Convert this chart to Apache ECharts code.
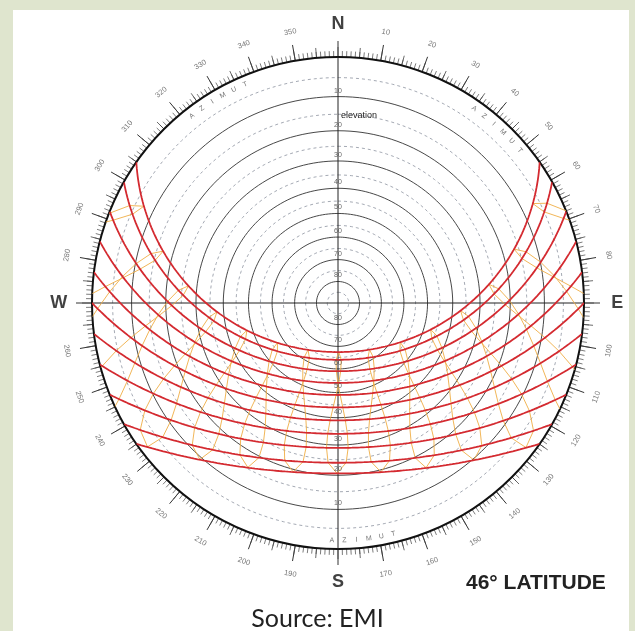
<!DOCTYPE html>
<html><head><meta charset="utf-8">
<script src="https://cdn.jsdelivr.net/npm/echarts@6/dist/echarts.min.js"></script>
<style>html,body{margin:0;padding:0;background:#dfe5ce}#c{width:635px;height:631px}</style>
</head><body><div id="c"></div>
<script>
// ---- data ----
const LATITUDE = 46;
const declinations = [23.44, 20, 15, 10, 5, 0, -5, -10, -15, -20, -23.44];
// mean-time hours of the hour lines (analemma loops through the curve dates)
const clockHours = [4, 5, 6, 7, 8, 9, 10, 11, 12, 13, 14, 15, 16, 17, 18, 19, 20];
const solidElevations = [10, 20, 30, 40, 50, 60, 70, 80];
const dashedElevations = [5, 15, 25, 35, 45, 55, 65, 75, 85];
const elevationTickLabels = ['10', '20', '30', '40', '50', '60', '70', '80'];
const azimuthTickLabels = ['10','20','30','40','50','60','70','80','100','110','120','130','140','150','160','170',
  '190','200','210','220','230','240','250','260','280','290','300','310','320','330','340','350'];
const cardinalLabels = ['N', 'E', 'S', 'W'];
const cardinalAzimuths = [0, 90, 180, 270];
const azimutWord = ['A', 'Z', 'I', 'M', 'U', 'T'];
const azimutWordStarts = [322, 35, 181.5];
const azimutWordSteps = [3, 3, -3];

// ---- projection helpers (stereographic) ----
const D = Math.PI / 180;
const rProj = e => Math.tan((90 - e) / 2 * D);
function sunRaw(decl, hDeg) {
  const phi = LATITUDE * D, d = decl * D, H = hDeg * D;
  const sinE = Math.sin(phi) * Math.sin(d) + Math.cos(phi) * Math.cos(d) * Math.cos(H);
  const e = Math.asin(Math.max(-1, Math.min(1, sinE))) / D;
  let az = Math.atan2(-Math.cos(d) * Math.sin(H), Math.sin(d) * Math.cos(phi) - Math.cos(d) * Math.sin(phi) * Math.cos(H)) / D;
  if (az < 0) az += 360;
  return [e, az];
}
function ring(e) { const pts = []; for (let a = 0; a <= 360; a += 2) pts.push([rProj(e), a]); return pts; }
function sunPath(decl) {
  const phi = LATITUDE * D;
  const h0 = Math.acos(-Math.tan(phi) * Math.tan(decl * D)) / D;
  const hs = [-h0];
  for (let h = Math.ceil(-h0); h < h0; h += 1) hs.push(h);
  hs.push(h0);
  return hs.map(h => { const p = sunRaw(decl, h); return [rProj(Math.max(0, p[0])), p[1]]; });
}
function hourPoint(hr, n) {
  const decl = 23.44 * Math.sin(2 * Math.PI * (284 + n) / 365);
  const B = 2 * Math.PI * (n - 81) / 364;
  const eot = 9.87 * Math.sin(2 * B) - 7.53 * Math.cos(B) - 1.5 * Math.sin(B);
  return sunRaw(decl, (hr + eot / 60 - 12) * 15);
}
// hour line: joins the points of one mean-time hour on each curve, in date order
function hourLoop(hr) {
  const asc = declinations.slice().sort((a, b) => a - b);
  const xs = d => Math.asin(Math.max(-1, Math.min(1, d / 23.44)));
  const ns = asc.map(d => 81 + 365 * xs(d) / (2 * Math.PI))
    .concat(asc.slice().reverse().slice(1).map(d => 263.5 - 365 * xs(d) / (2 * Math.PI)));
  const segs = []; let cur = [];
  const toPt = p => [rProj(Math.max(0, p[0])), p[1]];
  for (let i = 0; i < ns.length; i++) {
    const p = hourPoint(hr, ns[i]);
    if (i > 0) {
      const q = hourPoint(hr, ns[i - 1]);
      const upQ = q[0] >= 0, upP = p[0] >= 0;
      if (upQ !== upP) {
        let a = ns[i - 1], b = ns[i];
        for (let k = 0; k < 30; k++) { const m = (a + b) / 2; if ((hourPoint(hr, m)[0] >= 0) === upQ) a = m; else b = m; }
        const c = toPt(hourPoint(hr, (a + b) / 2));
        if (upQ) { cur.push(c); segs.push(cur); cur = []; } else { cur = [c]; }
      }
    }
    if (p[0] >= 0) cur.push(toPt(p));
  }
  if (cur.length) segs.push(cur);
  return segs.filter(s => s.length > 1);
}

const series = [];
const lineBase = { type: 'line', coordinateSystem: 'polar', polarIndex: 0, showSymbol: false, symbol: 'none', silent: true, clip: false, animation: false };
dashedElevations.forEach(e => series.push(Object.assign({}, lineBase, { data: ring(e), lineStyle: { color: '#8d93a0', width: 0.8, type: [3, 3] }, z: 1 })));
solidElevations.forEach(e => series.push(Object.assign({}, lineBase, { data: ring(e), lineStyle: { color: '#333', width: 0.9 }, z: 2 })));
series.push(Object.assign({}, lineBase, { data: [[1, 0], [0, 0], [1, 180]], lineStyle: { color: '#222', width: 1 }, z: 3 }));
series.push(Object.assign({}, lineBase, { data: [[1, 90], [0, 90], [1, 270]], lineStyle: { color: '#222', width: 1 }, z: 3 }));
clockHours.forEach(hr => hourLoop(hr).forEach(seg => series.push(Object.assign({}, lineBase, { data: seg, lineStyle: { color: '#efae45', width: 0.9 }, z: 4 }))));
declinations.forEach(d => series.push(Object.assign({}, lineBase, { data: sunPath(d), lineStyle: { color: '#d42a30', width: 1.8 }, z: 5 })));

const labelBase = { type: 'scatter', coordinateSystem: 'polar', polarIndex: 0, symbolSize: 0, silent: true, clip: false, animation: false, z: 10 };
series.push(Object.assign({}, labelBase, {
  data: azimuthTickLabels.map(t => { const a = Number(t); return { name: t, value: [1.118, a], label: { rotate: (a > 90 && a < 270) ? 180 - a : -a } }; }),
  label: { show: true, formatter: p => p.name, fontSize: 7.5, color: '#555', fontFamily: 'Liberation Sans, Arial, sans-serif', position: 'inside' }
}));
series.push(Object.assign({}, labelBase, {
  data: cardinalLabels.map((t, i) => ({ name: t, value: [1.135, cardinalAzimuths[i]] })),
  label: { show: true, formatter: p => p.name, fontSize: 18, fontWeight: 'bold', color: '#111', fontFamily: 'Liberation Sans, Arial, sans-serif', position: 'inside' }
}));
const azPts = [];
azimutWordStarts.forEach((s, k) => azimutWord.forEach((ch, i) => {
  const a = s + i * azimutWordSteps[k];
  azPts.push({ name: ch, value: [0.965, a], label: { rotate: (a > 90 && a < 270) ? 180 - a : -a } });
}));
series.push(Object.assign({}, labelBase, {
  data: azPts,
  label: { show: true, formatter: p => p.name, fontSize: 7, color: '#555', fontFamily: 'Liberation Sans, Arial, sans-serif', position: 'inside' }
}));
const elPts = [];
elevationTickLabels.forEach((t, i) => {
  elPts.push({ name: t, value: [rProj(solidElevations[i]), 0] });
  elPts.push({ name: t, value: [rProj(solidElevations[i]), 180] });
});
series.push(Object.assign({}, labelBase, {
  data: elPts,
  label: { show: true, formatter: p => p.name, fontSize: 7, color: '#444', fontFamily: 'Liberation Sans, Arial, sans-serif', position: 'inside', offset: [0, -6] }
}));

const angleCommon = { type: 'value', min: 0, max: 360, startAngle: 90, clockwise: true, axisLabel: { show: false }, splitLine: { show: false }, splitArea: { show: false } };
const option = {
  backgroundColor: '#dfe5ce',
  animation: false,
  graphic: [
    { type: 'rect', shape: { x: 13, y: 10, width: 616, height: 625 }, style: { fill: '#ffffff' }, z: -100, silent: true },
    { type: 'text', left: 341, top: 111, style: { text: 'elevation', font: '9px "Liberation Sans", Arial, sans-serif', fill: '#222' }, z: 100, silent: true },
    { type: 'text', left: 466, top: 573, style: { text: '46° LATITUDE', font: 'bold 21px "Liberation Sans", Arial, sans-serif', fill: '#222' }, z: 100, silent: true },
    { type: 'text', left: 'center', top: 606, style: { text: 'Source: EMI', font: '25px Lato, "Open Sans", sans-serif', fill: '#222' }, z: 100, silent: true }
  ],
  polar: [{ center: [338, 303], radius: 246 }, { center: [338, 303], radius: 246 }],
  angleAxis: [
    Object.assign({}, angleCommon, { polarIndex: 0, interval: 10,
      axisLine: { show: true, lineStyle: { color: '#111', width: 2 } },
      axisTick: { show: true, length: 16, lineStyle: { color: '#333', width: 1 } },
      minorTick: { show: true, splitNumber: 10, length: 6, lineStyle: { color: '#444', width: 0.7 } } }),
    Object.assign({}, angleCommon, { polarIndex: 1, interval: 5,
      axisLine: { show: false },
      axisTick: { show: true, length: 10, lineStyle: { color: '#444', width: 0.8 } },
      minorTick: { show: false } })
  ],
  radiusAxis: [
    { polarIndex: 0, type: 'value', min: 0, max: 1, show: false },
    { polarIndex: 1, type: 'value', min: 0, max: 1, show: false }
  ],
  series: series
};
const chart = echarts.init(document.getElementById('c'), null, { renderer: 'canvas' });
chart.setOption(option);
</script></body></html>
